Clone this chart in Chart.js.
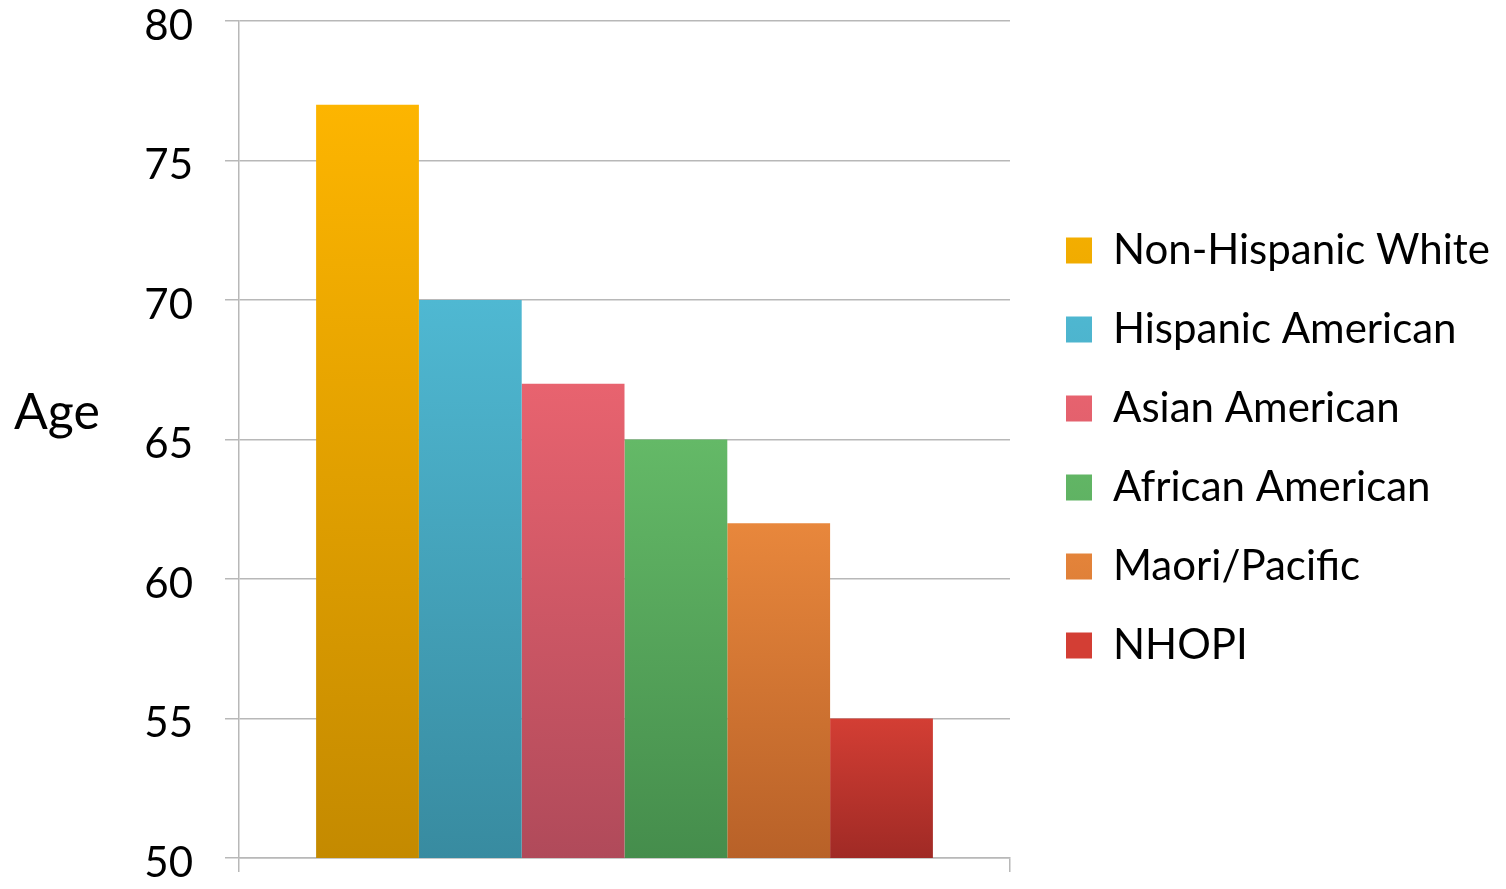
<!DOCTYPE html>
<html>
<head>
<meta charset="utf-8">
<script src="https://cdn.jsdelivr.net/npm/chart.js@4.4.1/dist/chart.umd.min.js"></script>
<style>
  html, body { margin: 0; padding: 0; background: #ffffff; }
  #wrap { position: relative; width: 1506px; height: 889px; }
</style>
</head>
<body>
<div id="wrap"><canvas id="c" width="1506" height="889"></canvas></div>
<script>
const categories = [''];
const seriesNames = ['Non-Hispanic White', 'Hispanic American', 'Asian American', 'African American', 'Maori/Pacific', 'NHOPI'];
const seriesValues = [77, 70, 67, 65, 62, 55];
const yTicks = [50, 55, 60, 65, 70, 75, 80];
const yTitle = 'Age';
const topColors = ['#fdb500', '#4fb8d2', '#e8636f', '#64b967', '#e8873c', '#d33e34'];
const bottomColors = ['#c48a00', '#388ba0', '#b04a5a', '#458d4c', '#b86128', '#a02a25'];
const midColors = ['#e0a000', '#43a0b8', '#cc5565', '#55a35a', '#d07432', '#b93430'];

const FONT = 'Lato, "Open Sans", sans-serif';

function gradFor(i) {
  return function (ctx) {
    const chart = ctx.chart;
    const area = chart.chartArea;
    if (!area || ctx.type !== 'data') return midColors[i];
    const y = chart.scales.y;
    const yTop = y.getPixelForValue(ctx.raw);
    const yBot = y.getPixelForValue(y.min);
    if (!isFinite(yTop) || !isFinite(yBot) || yTop === yBot) return midColors[i];
    const g = chart.ctx.createLinearGradient(0, yTop, 0, yBot);
    g.addColorStop(0, topColors[i]);
    g.addColorStop(1, bottomColors[i]);
    return g;
  };
}

const datasets = seriesNames.map((name, i) => ({
  label: name,
  data: [seriesValues[i]],
  backgroundColor: gradFor(i),
  borderWidth: 0,
  barPercentage: 1,
  categoryPercentage: 0.8
}));

const horizontalTitle = {
  id: 'horizontalTitle',
  afterDraw(chart) {
    const c = chart.ctx;
    c.save();
    c.font = '50px ' + FONT;
    c.fillStyle = '#000';
    c.textAlign = 'left';
    c.textBaseline = 'middle';
    c.fillText(yTitle, 14, 413);
    c.restore();
  }
};

const LEGEND_WIDTH = 496;
const legendShift = {
  id: 'legendShift',
  beforeLayout(chart) {
    const lg = chart.legend;
    if (lg && !lg._fixedWidth) {
      const origFit = lg.fit.bind(lg);
      lg.fit = function () { origFit(); this.width = LEGEND_WIDTH; };
      lg._fixedWidth = true;
    }
  },
  afterLayout(chart) {
    const lg = chart.legend;
    if (!lg) return;
    const dx = 1066 - (lg.left + lg.options.labels.padding);
    lg.left += dx; lg.right += dx;
    lg.top -= 7; lg.bottom -= 7;
  }
};

function build() {
  new Chart(document.getElementById('c'), {
    type: 'bar',
    data: { labels: categories, datasets },
    plugins: [horizontalTitle, legendShift],
    options: {
      responsive: false,
      animation: false,
      layout: { padding: { top: 21, left: 0, right: 0, bottom: 0 } },
      scales: {
        x: {
          offset: true,
          grid: { display: true, drawOnChartArea: false, drawTicks: true, tickLength: 14, color: '#b8b8b8', lineWidth: 1.5, offset: true },
          border: { display: true, color: '#b8b8b8', width: 1.5 },
          ticks: { display: false },
          afterFit(scale) { scale.height = 31; scale.paddingLeft = 0; scale.paddingRight = 0; }
        },
        y: {
          min: 50,
          max: 80,
          afterBuildTicks(scale) { scale.ticks = yTicks.map(v => ({ value: v })); },
          grid: { color: '#b8b8b8', lineWidth: 1.5, tickLength: 14 },
          border: { display: true, color: '#b8b8b8', width: 1.5 },
          ticks: { padding: 32, labelOffset: 5, color: '#000', font: { family: FONT, size: 42 } },
          title: { display: false, text: yTitle },
          afterFit(scale) { scale.width = 239; scale.paddingTop = 0; scale.paddingBottom = 0; }
        }
      },
      plugins: {
        legend: {
          position: 'right',
          align: 'center',
          maxWidth: 600,
          labels: {
            boxWidth: 26,
            boxHeight: 26,
            padding: 37,
            color: '#000',
            font: { family: FONT, size: 42 }
          }
        },
        tooltip: { enabled: false }
      }
    }
  });
}

const loads = [document.fonts.load('42px Lato'), document.fonts.load('50px Lato')];
Promise.all(loads).then(build, build);
</script>
</body>
</html>
